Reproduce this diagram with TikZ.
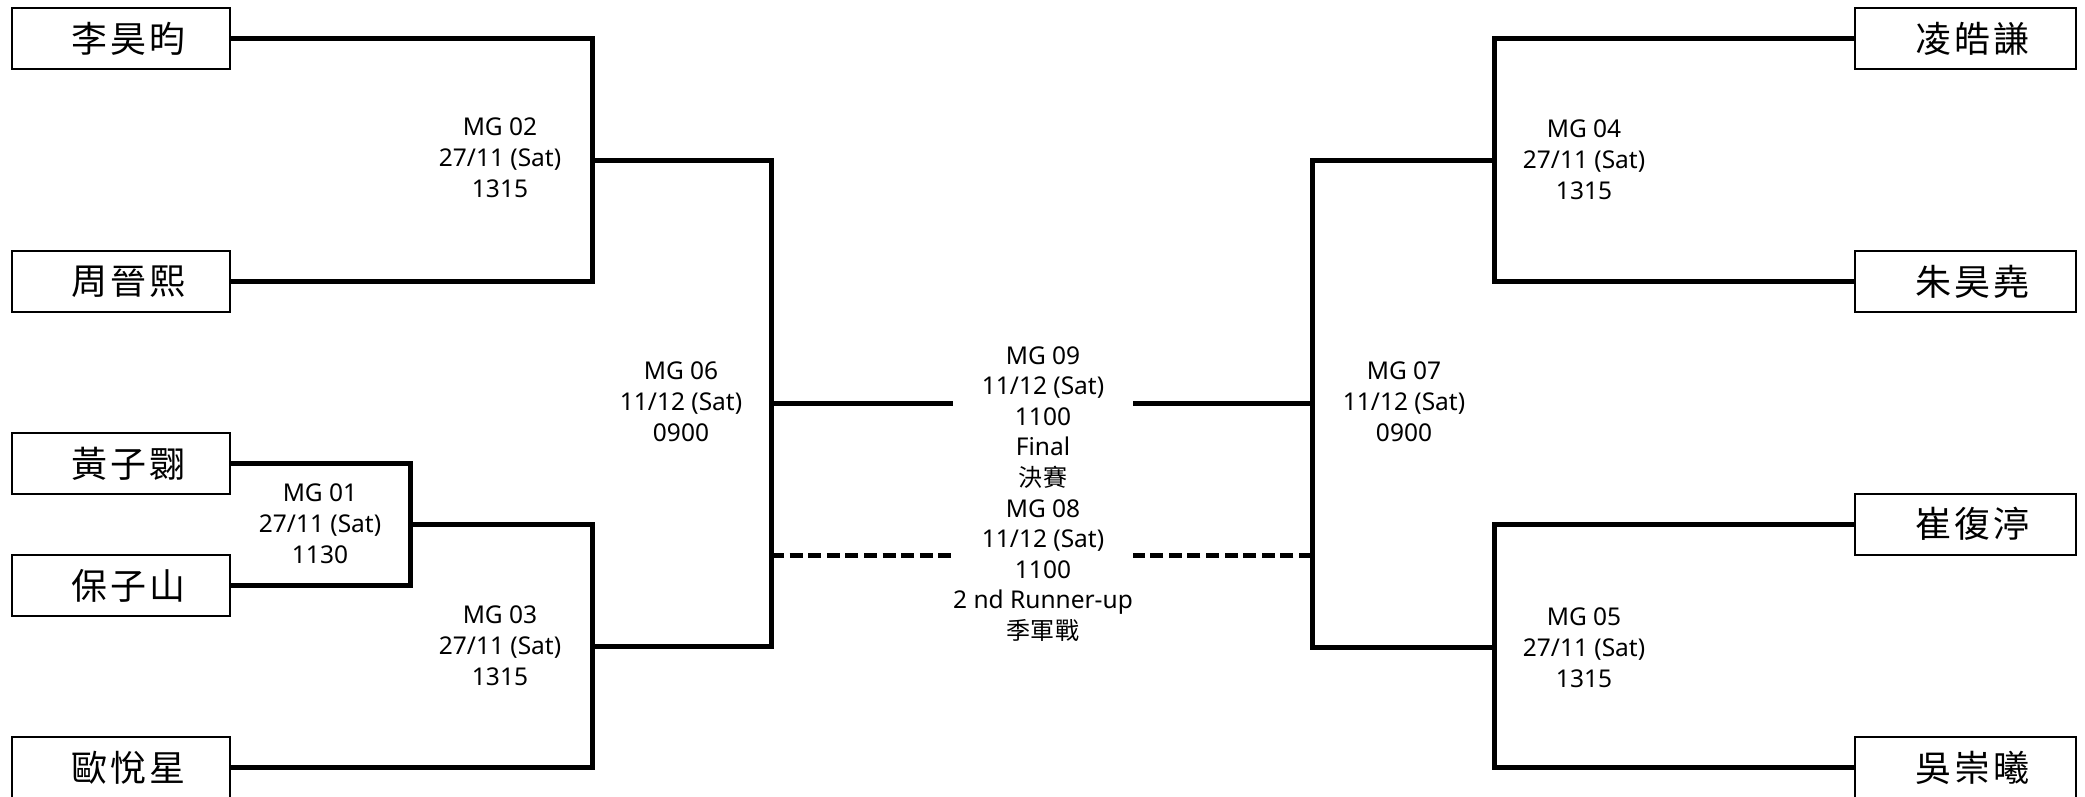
\documentclass[tikz,border=0pt]{standalone}
\usepackage{fontspec}
\setmainfont{Noto Sans}
\newfontfamily\cjkname[LetterSpace=8]{Noto Sans CJK TC}
\newfontfamily\cjksmall[LetterSpace=4]{Noto Sans CJK TC}
\begin{document}
\begin{tikzpicture}[x=1pt,y=-1pt,
  namebox/.style={draw, line width=2pt, minimum width=218pt, minimum height=61pt, inner sep=0pt,
    font=\cjkname\fontsize{36}{38}\selectfont},
  rnamebox/.style={namebox, minimum width=221pt},
  matchlbl/.style={align=center, inner sep=0pt, font=\fontsize{24.5}{31}\selectfont},
  centerlbl/.style={align=center, inner sep=0pt, font=\fontsize{24.5}{30.6}\selectfont},
  bracket/.style={line width=5pt, line join=miter},
  dashedline/.style={line width=5pt, dash pattern=on 13pt off 5.6pt}
]
\fill[white] (0,0) rectangle (2085,797);
\useasboundingbox (0,0) rectangle (2085,797);

% left players
\node[namebox] (p1) at (121,38.5)  {\hspace*{15pt}李昊昀};
\node[namebox] (p2) at (121,281.5) {\hspace*{15pt}周晉熙};
\node[namebox] (p3) at (121,463.5) {\hspace*{15pt}黃子翾};
\node[namebox] (p4) at (121,585.5) {\hspace*{15pt}保子山};
\node[namebox] (p5) at (121,767.5) {\hspace*{15pt}歐悅星};
% right players
\node[rnamebox] (q1) at (1965.5,38.5)  {\hspace*{14pt}凌皓謙};
\node[rnamebox] (q2) at (1965.5,281.5) {\hspace*{14pt}朱昊堯};
\node[rnamebox] (q3) at (1965.5,524)   {\hspace*{14pt}崔復渟};
\node[rnamebox] (q4) at (1965.5,767.5) {\hspace*{14pt}吳崇曦};

% junctions
\coordinate (j01) at (410,524);
\coordinate (j02) at (592,160);
\coordinate (j03) at (592,646);
\coordinate (j06) at (771,403);
\coordinate (k06) at (771,555);
\coordinate (fL) at (953,403);
\coordinate (dL) at (952,555);
\coordinate (fR) at (1133,403);
\coordinate (dR) at (1133,555);
\coordinate (j07) at (1312,403);
\coordinate (k07) at (1312,555);
\coordinate (j04) at (1494,160);
\coordinate (j05) at (1494,647);

% left brackets
\draw[bracket] (p3.east) -| (j01) |- (p4.east);
\draw[bracket] (p1.east) -| (j02) |- (p2.east);
\draw[bracket] (j01) -| (j03) |- (p5.east);
\draw[bracket] (j02) -| (j06) |- (j03);
\draw[bracket] (j06) -- (fL);
\draw[dashedline] (k06) -- (dL);
% right brackets
\draw[bracket] (q1.west) -| (j04) |- (q2.west);
\draw[bracket] (q3.west) -| (j05) |- (q4.west);
\draw[bracket] (j04) -| (j07) |- (j05);
\draw[bracket] (j07) -- (fR);
\draw[dashedline] (k07) -- (dR);

% match labels
\node[matchlbl] (m01) at (320,524) {MG 01\\27/11 (Sat)\\1130};
\node[matchlbl] (m02) at (500,158) {MG 02\\27/11 (Sat)\\1315};
\node[matchlbl] (m03) at (500,646) {MG 03\\27/11 (Sat)\\1315};
\node[matchlbl] (m06) at (681,402) {MG 06\\11/12 (Sat)\\0900};
\node[matchlbl] (m07) at (1404,402) {MG 07\\11/12 (Sat)\\0900};
\node[matchlbl] (m04) at (1584,160) {MG 04\\27/11 (Sat)\\1315};
\node[matchlbl] (m05) at (1584,648) {MG 05\\27/11 (Sat)\\1315};
\node[centerlbl] (m09) at (1043,494) {MG 09\\11/12 (Sat)\\1100\\Final\\{\cjksmall\fontsize{24}{30.6}\selectfont 決賽}\\MG 08\\11/12 (Sat)\\1100\\2 nd Runner-up\\{\cjksmall\fontsize{24}{30.6}\selectfont 季軍戰}};
\end{tikzpicture}
\end{document}
